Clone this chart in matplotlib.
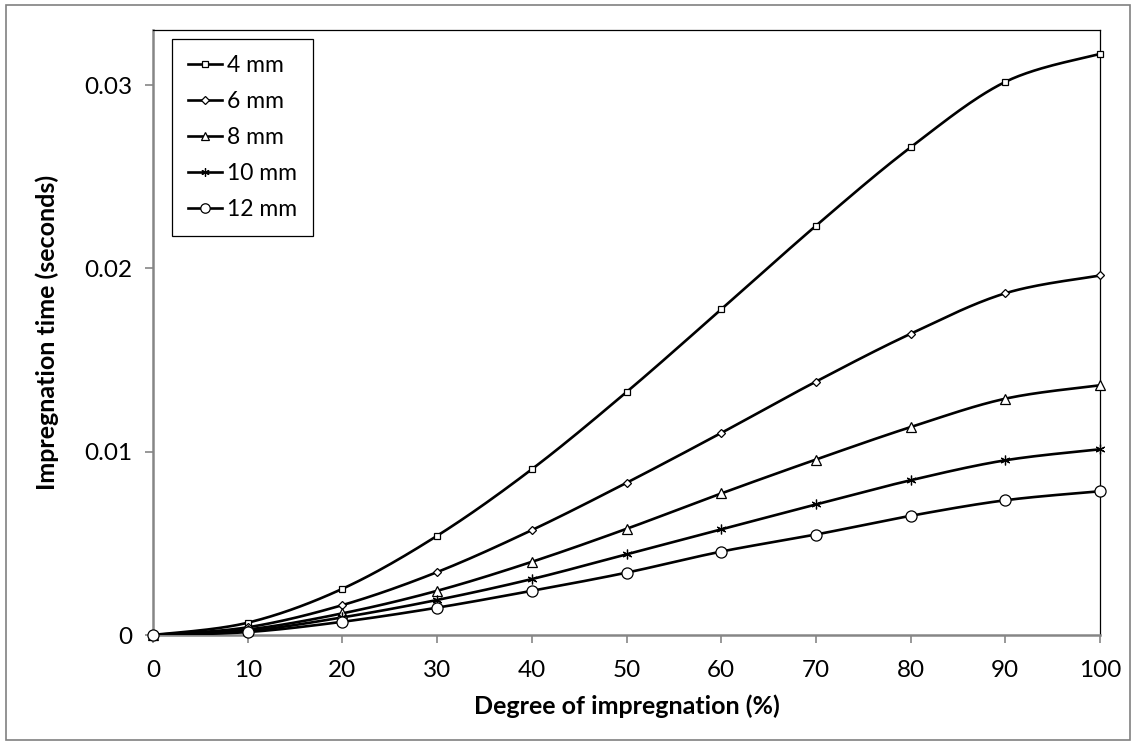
import matplotlib
matplotlib.use("Agg")
import matplotlib.pyplot as plt
from matplotlib.patches import Rectangle
import numpy as np

plt.rcParams['font.family'] = ['Lato', 'DejaVu Sans']

degree = [0, 10, 20, 30, 40, 50, 60, 70, 80, 90, 100]

t_4mm = [0, 0.00067, 0.00252, 0.00541, 0.00904, 0.01325, 0.01776, 0.02232, 0.0266, 0.03017, 0.0317]
t_6mm = [0, 0.00042, 0.00163, 0.00343, 0.00572, 0.0083, 0.01102, 0.01382, 0.01643, 0.01864, 0.01961]
t_8mm = [0, 0.0003, 0.00118, 0.00241, 0.00399, 0.00579, 0.00772, 0.00957, 0.01134, 0.01289, 0.01362]
t_10mm = [0, 0.00022, 0.00096, 0.00191, 0.00305, 0.0044, 0.00576, 0.00712, 0.00844, 0.00953, 0.01013]
t_12mm = [0, 0.00016, 0.00072, 0.00149, 0.00241, 0.0034, 0.00455, 0.00548, 0.0065, 0.00735, 0.00784]

labels = ['4 mm', '6 mm', '8 mm', '10 mm', '12 mm']
series = [t_4mm, t_6mm, t_8mm, t_10mm, t_12mm]
markers = ['s', 'D', '^', (6, 2, 0), 'o']
msizes = [5, 4.5, 6.5, 7, 8]


def smooth(x, y, n=30):
    """Excel-like smoothed line (Catmull-Rom as cubic Bezier)"""
    x = np.asarray(x, float)
    y = np.asarray(y, float)
    px = np.concatenate([[x[0]], x, [x[-1]]])
    py = np.concatenate([[y[0]], y, [y[-1]]])
    t = np.linspace(0, 1, n)[:, None]
    xs, ys = [], []
    for i in range(1, len(px) - 2):
        p0 = np.array([px[i], py[i]])
        p3 = np.array([px[i + 1], py[i + 1]])
        c1 = p0 + (np.array([px[i + 1], py[i + 1]]) - np.array([px[i - 1], py[i - 1]])) / 6
        c2 = p3 - (np.array([px[i + 2], py[i + 2]]) - np.array([px[i], py[i]])) / 6
        b = ((1 - t) ** 3) * p0 + 3 * ((1 - t) ** 2) * t * c1 + 3 * (1 - t) * t ** 2 * c2 + t ** 3 * p3
        xs.append(b[:, 0])
        ys.append(b[:, 1])
    return np.concatenate(xs), np.concatenate(ys)


fig = plt.figure(figsize=(11.36, 7.45), dpi=100)
ax = fig.add_axes([153 / 1136, 1 - 635 / 745, 947 / 1136, 605 / 745])

# outer chart frame
fig.patches.append(Rectangle((6 / 1136, 5 / 745), 1124 / 1136, 735 / 745,
                             transform=fig.transFigure, fill=False,
                             edgecolor='#808080', linewidth=1.2))

for y, lab, mk, ms in zip(series, labels, markers, msizes):
    sx, sy = smooth(degree, y)
    ax.plot(sx, sy, color='black', linewidth=1.9, zorder=3)
    ax.plot(degree, y, linestyle='none', marker=mk, markersize=ms,
            markerfacecolor='white', markeredgecolor='black',
            markeredgewidth=0.9, zorder=4, clip_on=False)
    # legend entry: line + smaller marker
    ax.plot([], [], color='black', linewidth=1.9, marker=mk, markersize=ms * 0.85,
            markerfacecolor='white', markeredgecolor='black',
            markeredgewidth=0.9, label=lab)

ax.set_xlim(0, 100)
ax.set_ylim(0, 0.033)
ax.set_xticks(np.arange(0, 101, 10))
ax.set_yticks([0, 0.01, 0.02, 0.03])
ax.set_yticklabels(['0', '0.01', '0.02', '0.03'])

for s in ['left', 'bottom']:
    ax.spines[s].set_color('#868686')
    ax.spines[s].set_linewidth(1.8)
for s in ['top', 'right']:
    ax.spines[s].set_color('black')
    ax.spines[s].set_linewidth(0.9)

ax.tick_params(direction='out', length=6, width=1.2, color='#868686',
               labelsize=17.5)
ax.tick_params(axis='x', pad=12)
ax.tick_params(axis='y', pad=9)

ax.set_xlabel('Degree of impregnation (%)', fontsize=18, fontweight='bold', labelpad=10)
ax.set_ylabel('Impregnation time (seconds)', fontsize=18, fontweight='bold', labelpad=18)

leg = ax.legend(loc='upper left', bbox_to_anchor=(0.02, 0.985), borderaxespad=0,
                fontsize=16.5, frameon=True, fancybox=False, edgecolor='black',
                framealpha=1, handlelength=1.5, handletextpad=0.2,
                labelspacing=0.65, borderpad=0.7)
leg.get_frame().set_linewidth(0.9)

plt.savefig('out.png', dpi=100)
